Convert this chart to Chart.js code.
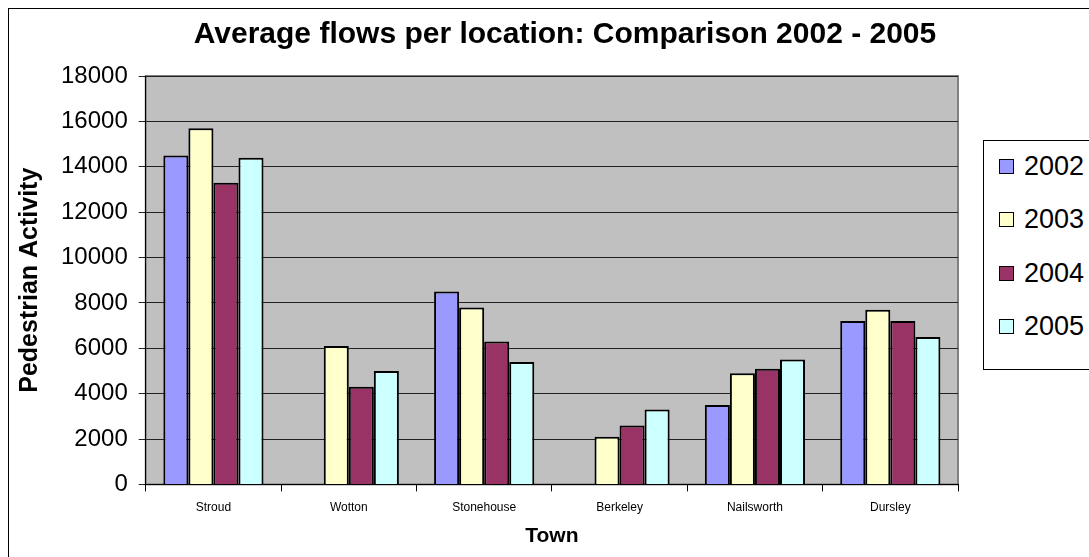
<!DOCTYPE html>
<html>
<head>
<meta charset="utf-8">
<script src="https://cdn.jsdelivr.net/npm/chart.js@4/dist/chart.umd.min.js"></script>
<style>
body{margin:0;overflow:hidden;background:#fff;font-family:"Liberation Sans",Arial,sans-serif;}
#frame{position:absolute;left:8px;top:8px;width:1112px;height:560px;border:1px solid #000;}
#wrap{position:absolute;left:0;top:0;width:1112px;height:548px;}
#legend{position:absolute;left:974px;top:131px;width:140px;height:228px;border:1px solid #000;background:#fff;}
.item{position:absolute;left:15px;font-size:27px;line-height:30px;color:#000;white-space:nowrap;}
.item span.box{display:inline-block;width:13px;height:13px;border:1px solid #000;margin-right:10px;vertical-align:1px;}
</style>
</head>
<body>
<div id="frame">
  <div id="wrap"><canvas id="mycanvas"></canvas></div>
  <div id="legend"></div>
</div>
<script>
var towns=["Stroud","Wotton","Stonehouse","Berkeley","Nailsworth","Dursley"];
var years=["2002","2003","2004","2005"];
var flows2002=[14500,null,8500,null,3500,7200];
var flows2003=[15700,6100,7800,2100,4900,7700];
var flows2004=[13300,4300,6300,2600,5100,7200];
var flows2005=[14400,5000,5400,3300,5500,6500];
var yTicks=[0,2000,4000,6000,8000,10000,12000,14000,16000,18000];

var colours=["#9999FF","#FFFFCC","#993366","#CCFFFF"];
var series=[flows2002,flows2003,flows2004,flows2005];

var datasets=[];
for (var i=0;i<years.length;i++){
	datasets.push({
		label:years[i],
		data:series[i],
		backgroundColor:colours[i],
		borderColor:"#000",
		borderWidth:2,
		borderSkipped:"bottom",
		categoryPercentage:0.74,
		barPercentage:1
	});
}

// grey plot area like the original
var plotBack={
	id:"plotBack",
	beforeDraw:function(chart){
		var a=chart.chartArea, c=chart.ctx;
		c.save();
		c.fillStyle="#C0C0C0";
		c.fillRect(a.left,a.top,a.right-a.left,a.bottom-a.top);
		c.strokeStyle="#808080";
		c.lineWidth=2;
		c.strokeRect(a.left,a.top,a.right-a.left,a.bottom-a.top);
		c.restore();
	}
};

Chart.defaults.font.family='"Liberation Sans", Arial, sans-serif';
Chart.defaults.color="#000";

var narrow='"Liberation Sans Narrow", "Liberation Sans", Arial';

var ctx=document.getElementById("mycanvas");
var chart=new Chart(ctx,{
	type:"bar",
	data:{labels:towns,datasets:datasets},
	plugins:[plotBack],
	options:{
		responsive:true,
		maintainAspectRatio:false,
		animation:false,
		layout:{padding:0},
		plugins:{
			legend:{display:false},
			tooltip:{enabled:false},
			title:{
				display:true,
				text:"Average flows per location: Comparison 2002 - 2005",
				font:{size:30,weight:"bold"},
				color:"#000",
				padding:{top:8,bottom:23}
			}
		},
		scales:{
			x:{
				grid:{drawOnChartArea:false,color:"#000",tickLength:7,offset:true},
				border:{color:"#000",width:1},
				ticks:{font:{family:narrow,size:12},color:"#000",padding:9,maxRotation:0},
				title:{display:true,text:"Town",font:{family:narrow,size:21,weight:"bold"},color:"#000",padding:{top:0,bottom:8}}
			},
			y:{
				min:0,max:18000,
				afterBuildTicks:function(axis){axis.ticks=yTicks.map(function(v){return {value:v};});},
				grid:{color:"#222",tickLength:7,lineWidth:1},
				border:{color:"#000",width:1},
				ticks:{font:{size:24},color:"#000",padding:11,callback:function(v){return String(v);}},
				title:{display:true,text:"Pedestrian Activity",font:{size:25,weight:"bold"},color:"#000",padding:{top:6,bottom:5}}
			},
			// empty space on the right where the legend sits
			side:{
				type:"linear",position:"right",display:true,
				grid:{display:false},border:{display:false},
				ticks:{display:false},
				afterFit:function(s){s.width=163;}
			}
		}
	}
});

// legend as real text
var leg=document.getElementById("legend");
var rowTops=[10,63,117,170];
for (var j=0;j<years.length;j++){
	var d=document.createElement("div");
	d.className="item";
	d.style.top=rowTops[j]+"px";
	d.innerHTML='<span class="box" style="background:'+colours[j]+'"></span>'+years[j];
	leg.appendChild(d);
}
</script>
</body>
</html>
